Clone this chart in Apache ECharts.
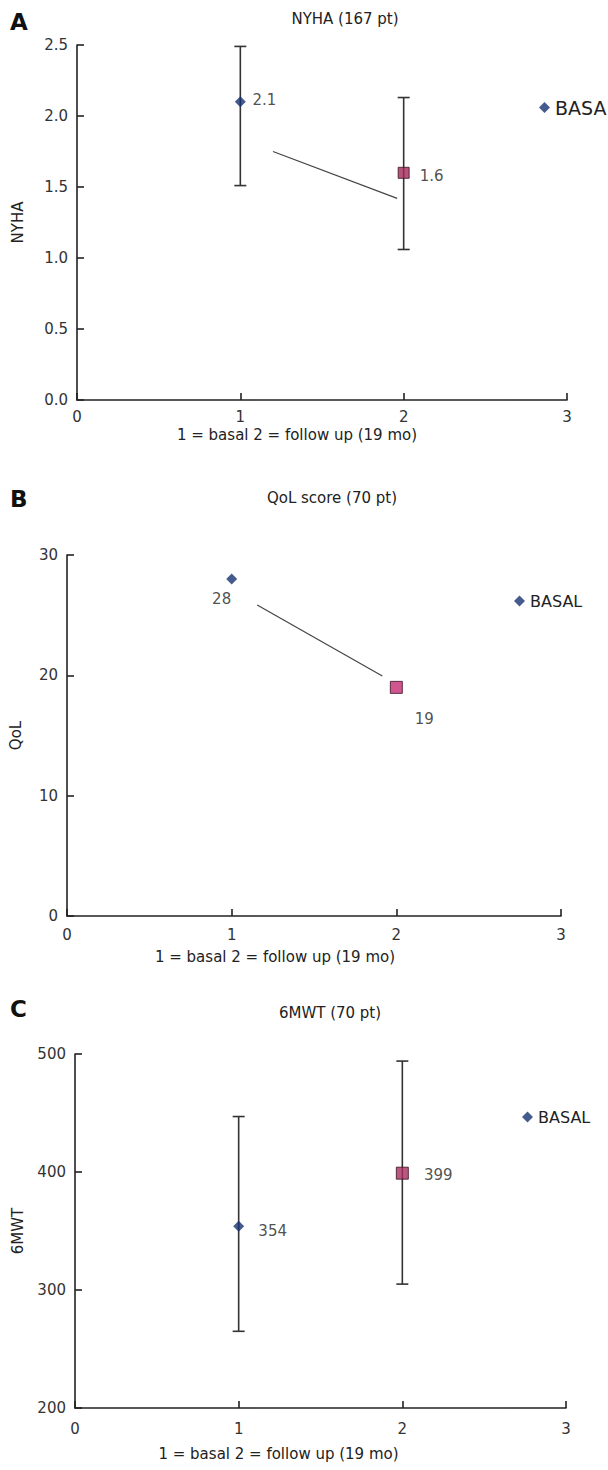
<!DOCTYPE html>
<html>
<head>
<meta charset="utf-8">
<script src="https://cdn.jsdelivr.net/npm/echarts@6/dist/echarts.min.js"></script>
<style>
  html, body { margin: 0; padding: 0; background: #fff; }
  #main { width: 608px; height: 1470px; }
</style>
</head>
<body>
<div id="main"></div>
<script>
// x positions: 1 = basal, 2 = follow up (19 mo)
var visits = [1, 2];
var xTicks = [0, 1, 2, 3];

// A - NYHA (167 pt)
var nyhaMean = [2.1, 1.6];
var nyhaLow = [1.51, 1.06];
var nyhaHigh = [2.49, 2.13];
var nyhaTrend = [[1.2, 1.75], [1.96, 1.42]];

// B - QoL score (70 pt)
var qolMean = [28, 19];
var qolTrend = [[1.155, 25.85], [1.915, 19.95]];

// C - 6MWT (70 pt)
var walkMean = [354, 399];
var walkLow = [265, 305];
var walkHigh = [447, 494];

var FONT = 'DejaVu Sans, Verdana, sans-serif';
var blue = '#173272';
var axisColor = '#222';

var chart = echarts.init(document.getElementById('main'), null, { renderer: 'svg' });

function errorBar(params, api) {
  var x = api.value(0);
  var top = api.coord([x, api.value(2)]);
  var bot = api.coord([x, api.value(1)]);
  var w = 6;
  var st = { stroke: '#333', lineWidth: 1.6 };
  return {
    type: 'group',
    children: [
      { type: 'line', shape: { x1: top[0], y1: top[1], x2: bot[0], y2: bot[1] }, style: st },
      { type: 'line', shape: { x1: top[0] - w, y1: top[1], x2: top[0] + w, y2: top[1] }, style: st },
      { type: 'line', shape: { x1: bot[0] - w, y1: bot[1], x2: bot[0] + w, y2: bot[1] }, style: st }
    ]
  };
}

function xAx(idx, shift, gap, margin) {
  return {
    type: 'value', gridIndex: idx, min: 0, max: 3, interval: 1,
    name: '1 = basal 2 = follow up (19 mo)', nameLocation: 'middle', nameGap: gap,
    nameTextStyle: { fontFamily: FONT, fontSize: 15, color: '#222', padding: [0, shift, 0, 0] },
    axisLine: { lineStyle: { color: axisColor, width: 1.6 } },
    axisTick: { inside: true, length: 7, lineStyle: { color: axisColor, width: 1.6 } },
    axisLabel: { fontFamily: FONT, fontSize: 15, color: '#333', margin: margin,
      formatter: function (v) { return xTicks.indexOf(v) >= 0 ? String(v) : ''; } },
    splitLine: { show: false }
  };
}

function yAx(idx, name, min, max, step, dec, gap) {
  return {
    type: 'value', gridIndex: idx, min: min, max: max, interval: step,
    name: name, nameLocation: 'middle', nameGap: gap, nameRotate: 90,
    nameTextStyle: { fontFamily: FONT, fontSize: 15, color: '#222' },
    axisLine: { show: true, lineStyle: { color: axisColor, width: 1.6 } },
    axisTick: { show: true, inside: true, length: 7, lineStyle: { color: axisColor, width: 1.6 } },
    axisLabel: { fontFamily: FONT, fontSize: 15, color: '#333', margin: 9,
      formatter: function (v) { return v.toFixed(dec); } },
    splitLine: { show: false }
  };
}

function legendAt(left, top, size) {
  return {
    left: left, top: top, data: ['BASAL'], icon: 'diamond',
    itemWidth: 11, itemHeight: 11, itemGap: 5,
    textStyle: { fontFamily: FONT, fontSize: size, color: '#222' }
  };
}

function label(dx, dy, fmt) {
  return { show: true, position: 'inside', offset: [dx, dy], color: '#222', fontFamily: FONT, fontSize: 15,
    formatter: fmt };
}
function oneDec(p) { return p.value[1].toFixed(1); }
function noDec(p) { return String(p.value[1]); }

var option = {
  backgroundColor: '#fff',
  animation: false,
  grid: [
    { left: 77, top: 45, width: 490, height: 355 },
    { left: 67, top: 555, width: 494, height: 361 },
    { left: 75, top: 1054, width: 491, height: 354 }
  ],
  xAxis: [xAx(0, 50, 27, 9), xAx(1, 78, 33, 11), xAx(2, 84, 38, 13)],
  yAxis: [
    yAx(0, 'NYHA', 0, 2.5, 0.5, 1, 52),
    yAx(1, 'QoL', 0, 30, 10, 0, 44),
    yAx(2, '6MWT', 200, 500, 100, 0, 50)
  ],
  legend: [legendAt(534, 93, 19), legendAt(509, 588, 16), legendAt(517, 1104, 16)],
  graphic: [
    { type: 'text', left: 10, top: 10, style: { text: 'A', font: 'bold 23px ' + FONT, fill: '#111' } },
    { type: 'text', left: 10, top: 487, style: { text: 'B', font: 'bold 23px ' + FONT, fill: '#111' } },
    { type: 'text', left: 10, top: 997, style: { text: 'C', font: 'bold 23px ' + FONT, fill: '#111' } },
    { type: 'text', x: 345, y: 19, style: { text: 'NYHA (167 pt)', font: '15px ' + FONT, fill: '#222', textAlign: 'center', textVerticalAlign: 'middle' } },
    { type: 'text', x: 332, y: 498, style: { text: 'QoL score (70 pt)', font: '15px ' + FONT, fill: '#222', textAlign: 'center', textVerticalAlign: 'middle' } },
    { type: 'text', x: 330, y: 1013, style: { text: '6MWT (70 pt)', font: '15px ' + FONT, fill: '#222', textAlign: 'center', textVerticalAlign: 'middle' } }
  ],
  series: [
    // A
    { type: 'custom', xAxisIndex: 0, yAxisIndex: 0, z: 1, renderItem: errorBar,
      data: visits.map(function (x, i) { return [x, nyhaLow[i], nyhaHigh[i]]; }) },
    { type: 'line', xAxisIndex: 0, yAxisIndex: 0, data: nyhaTrend, symbol: 'none',
      lineStyle: { color: '#444', width: 1.2 }, silent: true },
    { name: 'BASAL', type: 'scatter', xAxisIndex: 0, yAxisIndex: 0, z: 3,
      symbol: 'diamond', symbolSize: 11, itemStyle: { color: blue },
      data: [[visits[0], nyhaMean[0]]], label: label(24, -2, oneDec) },
    { name: 'FOLLOW UP', type: 'scatter', xAxisIndex: 0, yAxisIndex: 0, z: 3,
      symbol: 'rect', symbolSize: 11, itemStyle: { color: '#a3285a', borderColor: '#3a1020', borderWidth: 1 },
      data: [[visits[1], nyhaMean[1]]], label: label(28, 3, oneDec) },
    // B
    { type: 'line', xAxisIndex: 1, yAxisIndex: 1, data: qolTrend, symbol: 'none',
      lineStyle: { color: '#444', width: 1.2 }, silent: true },
    { name: 'BASAL', type: 'scatter', xAxisIndex: 1, yAxisIndex: 1, z: 3,
      symbol: 'diamond', symbolSize: 11, itemStyle: { color: blue },
      data: [[visits[0], qolMean[0]]], label: label(-10, 20, noDec) },
    { name: 'FOLLOW UP', type: 'scatter', xAxisIndex: 1, yAxisIndex: 1, z: 3,
      symbol: 'rect', symbolSize: 12, itemStyle: { color: '#c52c74', borderColor: '#3a1020', borderWidth: 1 },
      data: [[visits[1], qolMean[1]]], label: label(28, 32, noDec) },
    // C
    { type: 'custom', xAxisIndex: 2, yAxisIndex: 2, z: 1, renderItem: errorBar,
      data: visits.map(function (x, i) { return [x, walkLow[i], walkHigh[i]]; }) },
    { name: 'BASAL', type: 'scatter', xAxisIndex: 2, yAxisIndex: 2, z: 3,
      symbol: 'diamond', symbolSize: 11, itemStyle: { color: blue },
      data: [[visits[0], walkMean[0]]], label: label(34, 5, noDec) },
    { name: 'FOLLOW UP', type: 'scatter', xAxisIndex: 2, yAxisIndex: 2, z: 3,
      symbol: 'rect', symbolSize: 12, itemStyle: { color: '#a8305f', borderColor: '#3a1020', borderWidth: 1 },
      data: [[visits[1], walkMean[1]]], label: label(36, 2, noDec) }
  ]
};

chart.setOption(option);
</script>
</body>
</html>
